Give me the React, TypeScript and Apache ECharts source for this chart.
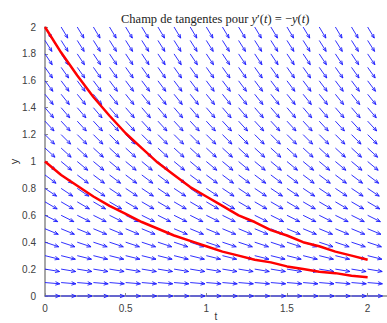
import React, { useEffect, useRef } from "react";
import * as echarts from "echarts";

// Grid of the direction field
const gridT = [0, 0.1, 0.2, 0.3, 0.4, 0.5, 0.6, 0.7, 0.8, 0.9, 1.0, 1.1, 1.2, 1.3, 1.4, 1.5, 1.6, 1.7, 1.8, 1.9, 2.0];
const gridY = [0, 0.1, 0.2, 0.3, 0.4, 0.5, 0.6, 0.7, 0.8, 0.9, 1.0, 1.1, 1.2, 1.3, 1.4, 1.5, 1.6, 1.7, 1.8, 1.9, 2.0];
// slope y' at each row of the field
const slopes = [0, -0.1, -0.2, -0.3, -0.4, -0.5, -0.6, -0.7, -0.8, -0.9, -1.0, -1.1, -1.2, -1.3, -1.4, -1.5, -1.6, -1.7, -1.8, -1.9, -2.0];

// Solution curves
const curveT = [0, 0.1, 0.2, 0.3, 0.4, 0.5, 0.6, 0.7, 0.8, 0.9, 1.0, 1.1, 1.2, 1.3, 1.4, 1.5, 1.6, 1.7, 1.8, 1.9, 2.0];
const curveHigh = [2.0, 1.81, 1.64, 1.48, 1.34, 1.21, 1.1, 0.99, 0.9, 0.81, 0.74, 0.67, 0.6, 0.55, 0.49, 0.45, 0.4, 0.37, 0.33, 0.3, 0.27];
const curveLow = [1.0, 0.9, 0.82, 0.74, 0.67, 0.61, 0.55, 0.5, 0.45, 0.41, 0.37, 0.33, 0.3, 0.27, 0.25, 0.22, 0.2, 0.18, 0.17, 0.15, 0.14];

const xTicks = [0, 0.5, 1, 1.5, 2];

export default function App() {
  const ref = useRef<HTMLDivElement>(null);
  useEffect(() => {
    if (!ref.current) return;
    const chart = echarts.init(ref.current, null, { renderer: "svg" });
    const fieldData: number[][] = [];
    gridT.forEach((t) => {
      gridY.forEach((y, i) => fieldData.push([t, y, slopes[i]]));
    });
    const L = 0.092;
    const option: any = {
      animation: false,
      title: {
        text: "Champ de tangentes pour {i|y}′({i|t}) = −{i|y}({i|t})",
        left: 116,
        top: 7,
        textStyle: {
          fontFamily: "Liberation Serif",
          fontSize: 12.5,
          fontWeight: "normal",
          color: "#222",
          rich: {
            i: { fontFamily: "Liberation Serif", fontStyle: "italic", fontSize: 12.5, color: "#222" },
          },
        },
      },
      grid: { left: 45, right: 0, top: 27, bottom: 27, containLabel: false, outerBoundsMode: "none" },
      xAxis: {
        type: "value",
        min: 0,
        max: 2.12,
        interval: 0.5,
        name: "t",
        nameLocation: "middle",
        nameGap: 15,
        nameMoveOverlap: false,
        nameTextStyle: { fontFamily: "Liberation Sans", fontSize: 10, color: "#333" },
        axisLine: { show: true, lineStyle: { color: "#8a8a8a", width: 1.5 } },
        axisTick: { show: true, inside: true, length: 3, lineStyle: { color: "#8a8a8a" } },
        splitLine: { show: false },
        axisLabel: {
          fontFamily: "Liberation Sans",
          fontSize: 10,
          color: "#404040",
          margin: 7,
          showMaxLabel: false,
          formatter: (v: number) => (xTicks.some((k) => Math.abs(k - v) < 1e-6) ? String(v) : ""),
        },
      },
      yAxis: {
        type: "value",
        min: 0,
        max: 2,
        interval: 0.2,
        name: "y",
        nameLocation: "middle",
        nameGap: 26,
        nameMoveOverlap: false,
        nameTextStyle: { fontFamily: "Liberation Sans", fontSize: 11, color: "#333" },
        axisLine: { show: true, lineStyle: { color: "#8a8a8a", width: 1.5 } },
        axisTick: { show: true, inside: true, length: 3, lineStyle: { color: "#8a8a8a" } },
        splitLine: { show: false },
        axisLabel: {
          fontFamily: "Liberation Sans",
          fontSize: 10,
          color: "#404040",
          margin: 9,
          formatter: (v: number) => String(Math.round(v * 10) / 10),
        },
      },
      series: [
        {
          type: "custom",
          data: fieldData,
          clip: false,
          silent: true,
          renderItem: (params: any, api: any) => {
            const t = api.value(0);
            const y = api.value(1);
            const s = api.value(2);
            const n = Math.sqrt(1 + s * s);
            const p0 = api.coord([t, y]);
            const p1 = api.coord([t + L / n, y + (L * s) / n]);
            const vx = p1[0] - p0[0];
            const vy = p1[1] - p0[1];
            const len = Math.sqrt(vx * vx + vy * vy);
            const ux = vx / len;
            const uy = vy / len;
            const h = len * 0.32;
            const a = (22 * Math.PI) / 180;
            const ca = Math.cos(a);
            const sa = Math.sin(a);
            const lx = p1[0] - h * (ux * ca - uy * sa);
            const ly = p1[1] - h * (uy * ca + ux * sa);
            const rx = p1[0] - h * (ux * ca + uy * sa);
            const ry = p1[1] - h * (uy * ca - ux * sa);
            const style = { stroke: "#1a1aff", lineWidth: 0.9, fill: "none" };
            return {
              type: "group",
              children: [
                { type: "line", shape: { x1: p0[0], y1: p0[1], x2: p1[0], y2: p1[1] }, style },
                { type: "polyline", shape: { points: [[lx, ly], [p1[0], p1[1]], [rx, ry]] }, style },
              ],
            };
          },
        },
        {
          type: "line",
          data: curveT.map((t, i) => [t, curveHigh[i]]),
          showSymbol: false,
          symbol: "none",
          lineStyle: { color: "#ff0000", width: 2.5 },
          z: 5,
        },
        {
          type: "line",
          data: curveT.map((t, i) => [t, curveLow[i]]),
          showSymbol: false,
          symbol: "none",
          lineStyle: { color: "#ff0000", width: 2.5 },
          z: 5,
        },
      ],
    };
    chart.setOption(option);
    return () => chart.dispose();
  }, []);
  return (
    <div
      ref={ref}
      style={{ position: "absolute", left: 0, top: 0, width: 387, height: 323, background: "#fff" }}
    />
  );
}
